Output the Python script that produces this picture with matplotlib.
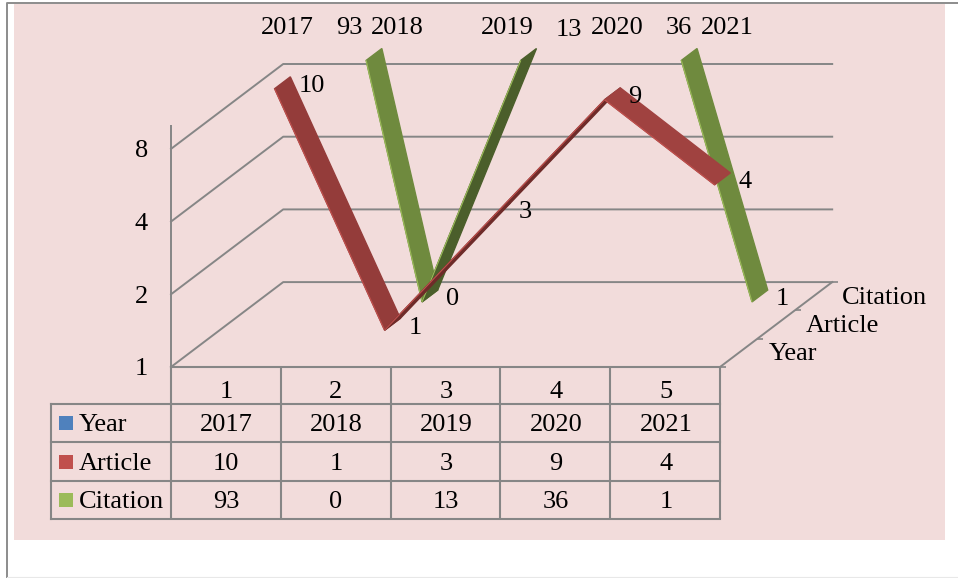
import numpy as np
import matplotlib
matplotlib.use("Agg")
import matplotlib.pyplot as plt

plt.rcParams['font.family'] = ['Liberation Serif', 'DejaVu Serif']

categories = ["1", "2", "3", "4", "5"]
series_names = ["Year", "Article", "Citation"]
year = [2017, 2018, 2019, 2020, 2021]
article = [10, 1, 3, 9, 4]
citation = [93, 0, 13, 36, 1]
y_ticks = [1, 2, 4, 8]
y_max = 10

GRID = "#868686"
PINK = "#f2dcdb"
FS = 19
TXT_DY = 2.3

# oblique projection, all in image pixels
x0, y0 = 171.0, 367.0
cat_w = 110.0
dec_h = 72.7
depth_dx = 37.4
depth_dy = -28.3
ribbon_depth = 0.42


def project(cat, val, depth):
	# cat is a float category index, val is the raw axis value
	x = x0 + (cat + 0.5) * cat_w + depth * depth_dx
	y = y0 - np.log2(val) * dec_h + depth * depth_dy
	return x, y


def clip_segment(i, v1, v2):
	# cut the piece of a segment that sits above the axis max, works on log values
	a = np.log2(max(v1, 1))
	b = np.log2(max(v2, 1))
	top = np.log2(y_max)
	if a >= top and b >= top:
		return None
	t1, t2 = 0.0, 1.0
	if a > top:
		t1 = (a - top) / (a - b)
	if b > top:
		t2 = (top - a) / (b - a)
	return i + t1, 2 ** (a + (b - a) * t1), i + t2, 2 ** (a + (b - a) * t2)


def ribbon(ax, vals, depth, colors, edge):
	for i in range(len(vals) - 1):
		seg = clip_segment(i, vals[i], vals[i + 1])
		if seg is None:
			continue
		c1, v1, c2, v2 = seg
		p1 = project(c1, v1, depth)
		p2 = project(c2, v2, depth)
		p3 = project(c2, v2, depth + ribbon_depth)
		p4 = project(c1, v1, depth + ribbon_depth)
		ax.fill([p1[0], p2[0], p3[0], p4[0]], [p1[1], p2[1], p3[1], p4[1]],
			facecolor=colors[i], edgecolor=colors[i], lw=1.0, zorder=6 - depth)
		ax.plot([p1[0], p2[0]], [p1[1], p2[1]], color=edge, lw=0.8, zorder=6 - depth,
			solid_capstyle="butt")


def labels(ax, vals, depth):
	for i, v in enumerate(vals):
		x, y = project(i, max(v, 1), depth)
		ax.text(x + 24, max(y - 5, 26) + TXT_DY, str(v), fontsize=FS, ha="left", va="center", zorder=8)


def main():
	fig = plt.figure(figsize=(9.58, 5.78), dpi=100)
	ax = fig.add_axes([0, 0, 1, 1])
	ax.set_xlim(0, 958)
	ax.set_ylim(578, 0)
	ax.axis("off")

	# page frame and chart background
	ax.fill([14, 945, 945, 14], [4, 4, 540, 540], color=PINK, lw=0, zorder=0)
	ax.plot([7, 7, 958], [578, 3, 3], color="#8c8c8c", lw=1.4, zorder=1)
	ax.plot([7, 958], [577, 577], color="#e8e8e8", lw=0.8, zorder=1)

	depth_total = 3.0
	n = len(categories)
	x_right = x0 + n * cat_w - 1
	bx = depth_total * depth_dx
	by = depth_total * depth_dy

	# walls and floor
	for t in y_ticks:
		yy = y0 - np.log2(t) * dec_h
		ax.plot([x0, x0 + bx, x_right + bx], [yy, yy + by, yy + by], color=GRID, lw=1.4, zorder=1)
		ax.text(148, yy + TXT_DY, str(t), fontsize=FS, ha="right", va="center")
	y_top = y0 - np.log2(y_max) * dec_h
	ax.plot([x0, x0], [y_top, y0], color=GRID, lw=1.4, zorder=1, solid_capstyle="butt")
	ax.plot([x_right, x_right + bx], [y0, y0 + by], color=GRID, lw=1.4, zorder=1)
	for d in range(0, 4):
		ax.plot([x_right + d * depth_dx, x_right + d * depth_dx + 6],
			[y0 + d * depth_dy, y0 + d * depth_dy], color=GRID, lw=1.2, zorder=1,
			solid_capstyle="butt")

	# series, back to front
	ribbon(ax, citation, 2.3, ["#6f8a3e", "#4b5e2b", "#6f8a3e", "#6f8a3e"], "#9bbb59")
	ribbon(ax, article, 1.3, ["#943c3a", "#6e2b29", "#6e2b29", "#a04240"], "#c0504d")
	labels(ax, year, 0.3)
	labels(ax, article, 1.3)
	labels(ax, citation, 2.3)

	# depth axis names
	for d, name in enumerate(series_names):
		ax.text(769 + d * 36.5, 352 - d * 28 + TXT_DY, name, fontsize=FS, ha="left", va="center")

	# data table
	row_y = [367, 403.5, 442, 481, 519]
	table_left = 51
	for yy in row_y[1:]:
		ax.plot([table_left, x_right], [yy, yy], color=GRID, lw=1.5, zorder=1)
	ax.plot([x0, x_right], [row_y[0], row_y[0]], color=GRID, lw=1.5, zorder=1)
	ax.plot([table_left, table_left], [row_y[1], row_y[4]], color=GRID, lw=1.5, zorder=1)
	for i in range(n + 1):
		xx = x0 + i * (x_right - x0) / n
		ax.plot([xx, xx], [row_y[0] - 1.5, row_y[4]], color=GRID, lw=1.5, zorder=1,
			solid_capstyle="butt")

	table_rows = [year, article, citation]
	swatches = ["#4f81bd", "#c0504d", "#9bbb59"]
	for r, name in enumerate(series_names):
		ym = (row_y[r + 1] + row_y[r + 2]) / 2
		ax.fill([59, 73, 73, 59], [ym - 7, ym - 7, ym + 7, ym + 7], color=swatches[r], lw=0, zorder=2)
		ax.text(78.5, ym + TXT_DY, name, fontsize=FS, ha="left", va="center")
		for i, v in enumerate(table_rows[r]):
			ax.text(x0 + (i + 0.5) * cat_w, ym + TXT_DY, str(v), fontsize=FS, ha="center", va="center")
	for i, c in enumerate(categories):
		ax.text(x0 + (i + 0.5) * cat_w, 390 + TXT_DY, c, fontsize=FS, ha="center", va="center")

	fig.savefig("out.png", dpi=100)


if __name__ == "__main__":
	main()
